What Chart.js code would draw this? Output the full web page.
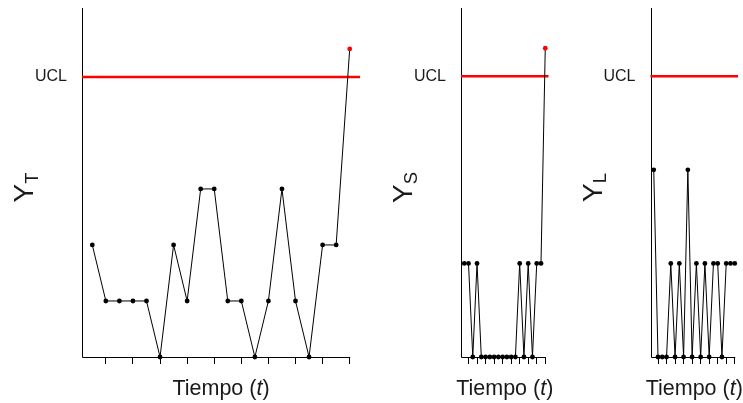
<!DOCTYPE html>
<html>
<head>
<meta charset="utf-8">
<script src="https://cdn.jsdelivr.net/npm/chart.js@4.4.0/dist/chart.umd.min.js"></script>
<style>
  body { margin: 0; background: #fff; }
  #wrap { position: relative; width: 743px; height: 403px; }
  canvas { position: absolute; top: 0; }
</style>
</head>
<body>
<div id="wrap">
  <canvas id="panelT" width="370" height="403" style="left:0px"></canvas>
  <canvas id="panelS" width="188" height="403" style="left:372px"></canvas>
  <canvas id="panelL" width="181" height="403" style="left:562px"></canvas>
</div>
<script>
// datos
const tiempo = [1, 2, 3, 4, 5, 6, 7, 8, 9, 10, 11, 12, 13, 14, 15, 16, 17, 18, 19, 20];
const ticksTiempo = [2, 4, 6, 8, 10, 12, 14, 16, 18, 20];
const serieT = [2, 1, 1, 1, 1, 0, 2, 1, 3, 3, 1, 1, 0, 1, 3, 1, 0, 2, 2, 5.5];
const serieS = [1, 1, 0, 1, 0, 0, 0, 0, 0, 0, 0, 0, 0, 1, 0, 1, 0, 1, 1, 3.3];
const serieL = [2, 0, 0, 0, 1, 0, 1, 0, 2, 0, 1, 0, 1, 0, 1, 1, 0, 1, 1, 1];
const uclT = 5, uclS = 3, uclL = 3;
const ymaxT = 6.23, ymaxS = 3.73, ymaxL = 3.73;
const xMin = 0.24, xMax = 20.76;

const fuente = '"Liberation Sans", Arial, sans-serif';
const colorTexto = '#1a1a1a';

function ejesPlugin(sub) {
    return {
        id: 'ejes',
        beforeDatasetsDraw(chart) {
            const { ctx, chartArea, scales } = chart;
            const x0 = Math.round(chartArea.left) + 0.5;
            const yb = Math.round(chartArea.bottom) + 0.5;
            ctx.save();
            ctx.strokeStyle = '#000';
            ctx.lineWidth = 1;
            ctx.beginPath();
            ctx.moveTo(x0, chartArea.top);
            ctx.lineTo(x0, yb);
            ctx.lineTo(scales.x.getPixelForValue(tiempo[tiempo.length - 1]) + 0.5, yb);
            ctx.stroke();
            ctx.restore();
        },
        afterDraw(chart) {
            const { ctx, chartArea } = chart;
            ctx.save();
            ctx.fillStyle = colorTexto;
            ctx.textBaseline = 'alphabetic';
            ctx.textAlign = 'left';

            // titulo eje x: Tiempo (t)
            const partes = [['Tiempo (', ''], ['t', 'italic '], [')', '']];
            let total = 0;
            partes.forEach(p => {
                ctx.font = p[1] + '21.5px ' + fuente;
                total += ctx.measureText(p[0]).width;
            });
            let x = (chartArea.left + chartArea.right) / 2 - total / 2;
            partes.forEach(p => {
                ctx.font = p[1] + '21.5px ' + fuente;
                ctx.fillText(p[0], x, 394.5);
                x += ctx.measureText(p[0]).width;
            });

            // titulo eje y: Y con subindice
            ctx.translate(chartArea.left - 49, 187.5);
            ctx.rotate(-Math.PI / 2);
            ctx.font = '28px ' + fuente;
            const wY = ctx.measureText('Y').width;
            ctx.font = '18.5px ' + fuente;
            const wSub = ctx.measureText(sub).width;
            const inicio = -(wY + wSub) / 2;
            ctx.font = '28px ' + fuente;
            ctx.fillText('Y', inicio, 0);
            ctx.font = '18.5px ' + fuente;
            ctx.fillText(sub, inicio + wY, 4.5);
            ctx.restore();
        }
    };
}

function dibujarPanel(id, serie, ucl, ymax, sub, anchoEje, padDerecha) {
    const puntos = tiempo.map((t, i) => ({ x: t, y: serie[i] }));
    const colores = serie.map(v => v > ucl ? '#ff0000' : '#000000');

    new Chart(document.getElementById(id), {
        type: 'line',
        data: {
            datasets: [
                {
                    data: puntos,
                    borderColor: '#000',
                    borderWidth: 1,
                    pointRadius: 2.4,
                    pointBorderWidth: 0,
                    pointBackgroundColor: colores,
                    tension: 0,
                    clip: false
                },
                {
                    data: [{ x: xMin, y: ucl }, { x: xMax, y: ucl }],
                    borderColor: '#ff0000',
                    borderWidth: 2.5,
                    pointRadius: 0,
                    clip: false
                }
            ]
        },
        options: {
            responsive: false,
            animation: false,
            events: [],
            layout: { padding: { top: 8, right: padDerecha, left: 0, bottom: 0 } },
            plugins: {
                legend: { display: false },
                tooltip: { enabled: false }
            },
            scales: {
                x: {
                    type: 'linear',
                    min: xMin,
                    max: xMax,
                    afterBuildTicks: s => { s.ticks = ticksTiempo.map(v => ({ value: v })); },
                    afterFit: s => {
                        s.height = 46;
                        s.paddingLeft = 0;
                        s.paddingRight = 0;
                    },
                    ticks: { display: false },
                    grid: { drawOnChartArea: false, drawTicks: true, tickLength: 7, color: '#000', lineWidth: 1 },
                    border: { display: false }
                },
                y: {
                    min: 0,
                    max: ymax,
                    afterBuildTicks: s => { s.ticks = [{ value: ucl }]; },
                    afterFit: s => {
                        s.width = anchoEje;
                        s.paddingTop = 0;
                        s.paddingBottom = 0;
                    },
                    ticks: {
                        callback: () => 'UCL',
                        font: { family: fuente, size: 16 },
                        color: colorTexto,
                        padding: 15
                    },
                    grid: { display: false, drawTicks: false },
                    border: { display: false }
                }
            }
        },
        plugins: [ejesPlugin(sub)]
    });
}

dibujarPanel('panelT', serieT, uclT, ymaxT, 'T', 82, 10);
dibujarPanel('panelS', serieS, uclS, ymaxS, 'S', 89, 11.5);
dibujarPanel('panelL', serieL, uclL, ymaxL, 'L', 88.5, 5);
</script>
</body>
</html>
